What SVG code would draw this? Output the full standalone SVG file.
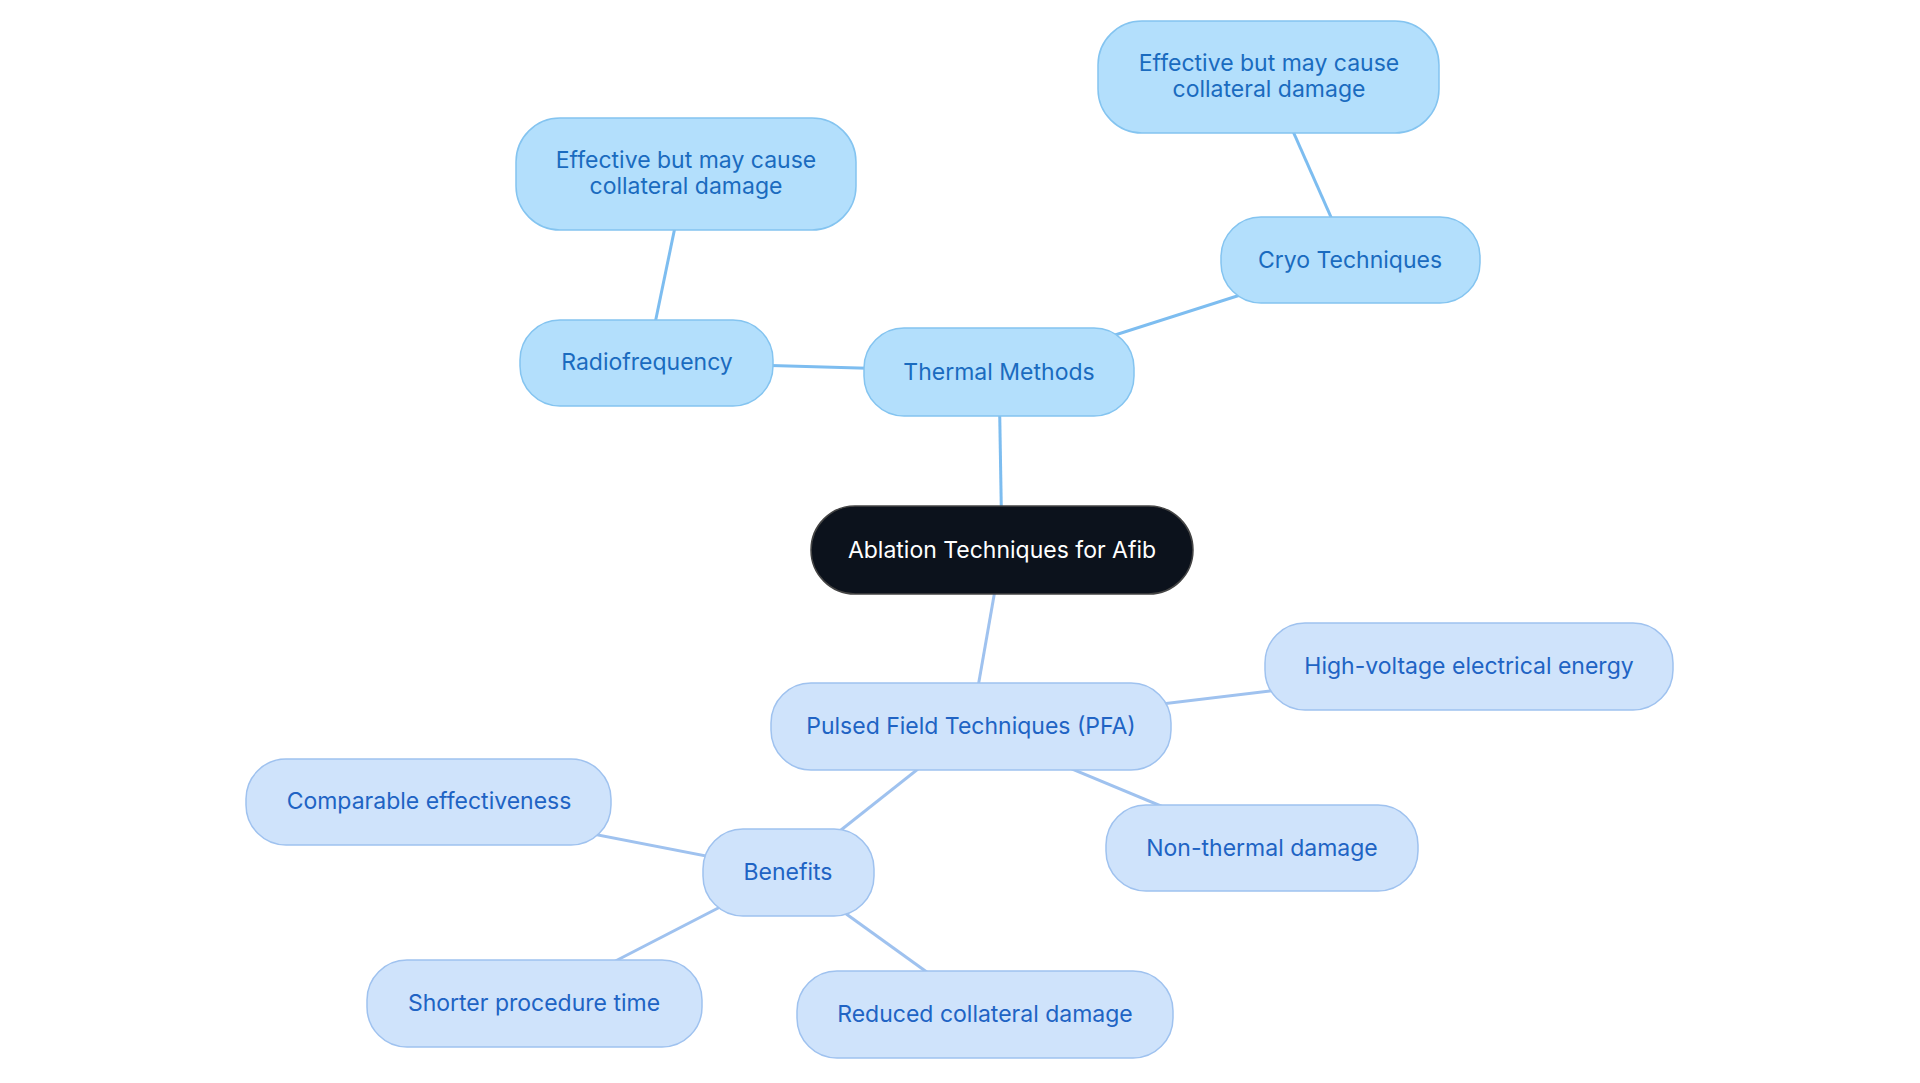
<svg xmlns="http://www.w3.org/2000/svg" width="1920" height="1083" viewBox="0 0 1920 1083">
<style>
text{font-family:Inter,"Liberation Sans",sans-serif;font-size:23px;text-anchor:middle;dominant-baseline:central}
.a rect{fill:#b3dffc;stroke:#84c4f0;stroke-width:1.5}
.a text{fill:#1a6bbf}
.b rect{fill:#cfe3fb;stroke:#9fc2ef;stroke-width:1.5}
.b text{fill:#2063c4}
.la{stroke:#7dbdf0;stroke-width:3;fill:none}
.lb{stroke:#9fc2ef;stroke-width:3;fill:none}
</style>
<rect width="1920" height="1083" fill="#fff"/>
<g id="connectors">
<line class="la" x1="1002" y1="550" x2="999" y2="372"/>
<line class="la" x1="999" y1="372" x2="647" y2="362"/>
<line class="la" x1="647" y1="362" x2="686" y2="174"/>
<line class="la" x1="999" y1="372" x2="1350" y2="260"/>
<line class="la" x1="1350" y1="260" x2="1269" y2="77"/>
<line class="lb" x1="1002" y1="550" x2="971" y2="727"/>
<line class="lb" x1="971" y1="727" x2="1469" y2="667"/>
<line class="lb" x1="971" y1="727" x2="1262" y2="848"/>
<line class="lb" x1="971" y1="727" x2="788" y2="872"/>
<line class="lb" x1="788" y1="872" x2="429" y2="802"/>
<line class="lb" x1="788" y1="872" x2="534" y2="1003"/>
<line class="lb" x1="788" y1="872" x2="985" y2="1014"/>
</g>
<g id="root"><rect x="811" y="506" width="382" height="88" rx="44" fill="#0c121c" stroke="#444" stroke-width="1.5"/><text x="1002" y="550" fill="#fff">Ablation Techniques for Afib</text></g>
<g id="thermal" class="a"><rect x="864" y="328" width="270" height="88" rx="40"/><text x="999" y="372">Thermal Methods</text></g>
<g id="rf" class="a"><rect x="520" y="320" width="253" height="86" rx="40"/><text x="647" y="362">Radiofrequency</text></g>
<g id="eff1" class="a"><rect x="516" y="118" width="340" height="112" rx="44"/><text x="686" y="160">Effective but may cause</text><text x="686" y="186">collateral damage</text></g>
<g id="cryo" class="a"><rect x="1221" y="217" width="259" height="86" rx="40"/><text x="1350" y="260">Cryo Techniques</text></g>
<g id="eff2" class="a"><rect x="1098" y="21" width="341" height="112" rx="44"/><text x="1269" y="63">Effective but may cause</text><text x="1269" y="89">collateral damage</text></g>
<g id="pfa" class="b"><rect x="771" y="683" width="400" height="87" rx="40"/><text x="971" y="726">Pulsed Field Techniques (PFA)</text></g>
<g id="hv" class="b"><rect x="1265" y="623" width="408" height="87" rx="40"/><text x="1469" y="666">High-voltage electrical energy</text></g>
<g id="nt" class="b"><rect x="1106" y="805" width="312" height="86" rx="40"/><text x="1262" y="848">Non-thermal damage</text></g>
<g id="benefits" class="b"><rect x="703" y="829" width="171" height="87" rx="40"/><text x="788" y="872">Benefits</text></g>
<g id="comp" class="b"><rect x="246" y="759" width="365" height="86" rx="40"/><text x="429" y="801">Comparable effectiveness</text></g>
<g id="short" class="b"><rect x="367" y="960" width="335" height="87" rx="40"/><text x="534" y="1003">Shorter procedure time</text></g>
<g id="reduced" class="b"><rect x="797" y="971" width="376" height="87" rx="40"/><text x="985" y="1014">Reduced collateral damage</text></g>
</svg>
